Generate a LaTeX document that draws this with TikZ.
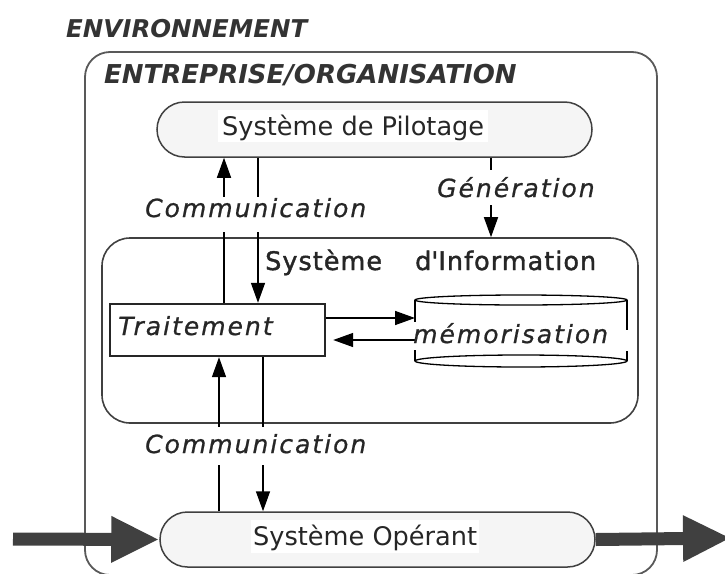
\documentclass[tikz,border=0pt]{standalone}
\usepackage{fontspec}
\setmainfont{DejaVu Sans}
\newfontfamily\lblfont[LetterSpace=8,FakeBold=0.7]{DejaVu Sans}
\newfontfamily\semifont[FakeBold=1.5,LetterSpace=4]{DejaVu Sans}
\usetikzlibrary{arrows.meta}
\begin{document}
\begin{tikzpicture}[x=1pt,y=-1pt,
  txt/.style={inner sep=0pt, anchor=base west, text=black!85},
  lbl/.style={anchor=base west, fill=white, inner xsep=2pt, inner ysep=2pt,
    font=\lblfont\itshape\fontsize{25}{30}\selectfont, text=black!85},
  head/.style={inner sep=0pt, anchor=base west, text=black!80},
  stadium/.style={draw=black!75, line width=1.5pt, fill=black!4, rounded corners=27.5pt,
    minimum width=435pt, minimum height=55pt, inner sep=0pt},
  roundbox/.style={draw=black!75, line width=1.6pt, inner sep=0pt},
  arr/.style={-{Triangle[length=20pt,width=14pt]}, line width=1.5pt},
  big/.style={-{Triangle[length=48pt,width=43pt]}, line width=13pt, draw=black!75}
]
\useasboundingbox (0,0) rectangle (725,573);
\clip (0,0) rectangle (725,573);

% boxes
\node[roundbox, draw=black!65, line width=1.8pt, rounded corners=25pt,
  minimum width=572pt, minimum height=523pt] (ent) at (371,313.5) {};
\node[roundbox, rounded corners=28pt, minimum width=536pt, minimum height=185pt] (si) at (370,330.5) {};
\node[stadium] (pil) at (374.5,129.5) {};
\node[stadium] (op) at (377.5,539.5) {};
\node[draw=black!85, line width=2.4pt, fill=white, minimum width=215pt, minimum height=52pt, inner sep=0pt] (trt) at (217.5,330) {};
\node[minimum width=212pt, minimum height=61pt, inner sep=0pt, outer sep=0pt] (mem) at (521,330.5) {};

% cylinder of memorisation
\draw[line width=1.3pt] (mem.north) ellipse [x radius=106, y radius=5];
\draw[line width=1.3pt] (mem.south) ellipse [x radius=106, y radius=6];
\draw[line width=1.3pt] (mem.north west) -- ++(0,22);
\draw[line width=1.3pt] (mem.north east) -- ++(0,30);
\draw[line width=1.3pt] (mem.south west) -- ++(0,-11);
\draw[line width=1.3pt] (mem.south east) -- ++(0,-10);

% helper coordinates
\coordinate (xa) at (224,0);
\coordinate (xb) at (258,0);
\coordinate (xc) at (219,0);
\coordinate (xd) at (263,0);
\coordinate (xg) at (491,0);
\coordinate (ya) at (0,318);
\coordinate (yb) at (0,340);
\coordinate (inL) at (13,539);
\coordinate (outR) at (731,538);

% connectors
\draw[arr] (trt.north -| xa) -- (pil.south -| xa);
\draw[arr] (pil.south -| xb) -- (trt.north -| xb);
\draw[arr] (op.north -| xc) -- (trt.south -| xc);
\draw[arr] (trt.south -| xd) -- (op.north -| xd);
\draw[arr] (pil.south -| xg) -- (si.north -| xg);
\draw[arr] (trt.east |- ya) -- (mem.west |- ya);
\draw[arr, shorten >=7pt] (mem.west |- yb) -- (trt.east |- yb);
\draw[big] (inL) -- (op.west);
\draw[big] (op.east) -- (outR);

% labels on connectors
\node[lbl, text height=18pt, text depth=13pt] (c1) at (143,217) {Communication};
\node[lbl, text height=24pt, text depth=10pt] (c2) at (143,453) {Communication};
\node[lbl, text height=25pt, text depth=6pt] (gen) at (435,197) {Génération};

% texts
\node[head, font=\bfseries\itshape\fontsize{24.5}{29}\selectfont] (envt) at (66,37) {ENVIRONNEMENT};
\node[head, font=\bfseries\itshape\fontsize{26}{31}\selectfont] (entt) at (104,83) {ENTREPRISE/ORGANISATION};
\node[txt, fill=white, inner xsep=4pt, inner ysep=2pt, text height=23pt, text depth=5pt,
  font=\fontsize{25.6}{30}\selectfont] (pilt) at (218,135) {Système de Pilotage\hspace{16pt}};
\node[txt, fill=white, inner xsep=2pt, inner ysep=2pt, text height=23pt, text depth=6pt,
  font=\fontsize{25.6}{30}\selectfont] (opt) at (251,545) {Système Opérant\hspace{7pt}};
\node[txt, font=\semifont\fontsize{25.5}{30}\selectfont] (sit1) at (265,270) {Système};
\node[txt, font=\semifont\fontsize{25.5}{30}\selectfont] (sit2) at (415,270) {d\textquotesingle Information};
\node[txt, font=\lblfont\itshape\fontsize{25}{30}\selectfont] (trtt) at (118,335) {Traitement};
\node[txt, font=\lblfont\itshape\fontsize{25}{30}\selectfont] (memt) at (413,343) {mémorisation};
\end{tikzpicture}
\end{document}
